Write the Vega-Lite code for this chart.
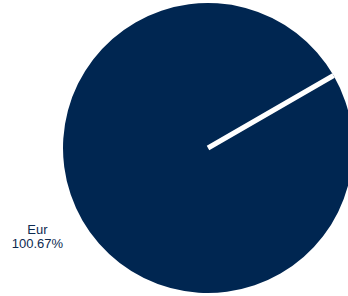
{
  "$schema": "https://vega.github.io/schema/vega-lite/v6.json",
  "width": 280,
  "height": 296,
  "padding": {"left": 68, "right": 0, "top": 0, "bottom": 0},
  "autosize": {"type": "none"},
  "background": "white",
  "data": {"values": [
    {"category": "Eur", "value": 100.67, "label": "Eur\n100.67%"},
    {"category": "Other", "value": 0, "label": ""}
  ]},
  "encoding": {
    "theta": {"field": "value", "type": "quantitative", "stack": true, "scale": {"range": [1.0472, 7.3304]}},
    "order": {"field": "category", "sort": "ascending"}
  },
  "layer": [
    {
      "mark": {"type": "arc", "outerRadius": 145, "stroke": "white"},
      "encoding": {
        "color": {"field": "category", "type": "nominal", "scale": {"domain": ["Eur", "Other"], "range": ["#002651", "#ffffff"]}, "legend": null},
        "strokeWidth": {"condition": {"test": "datum.category === 'Other'", "value": 5}, "value": 0}
      }
    },
    {
      "mark": {"type": "text", "radius": 190, "align": "center", "baseline": "middle", "lineBreak": "\n", "font": "Liberation Sans", "fontSize": 13, "lineHeight": 14.5, "color": "#0d2a50", "dx": -6, "dy": -13},
      "encoding": {"text": {"field": "label"}}
    }
  ]
}
